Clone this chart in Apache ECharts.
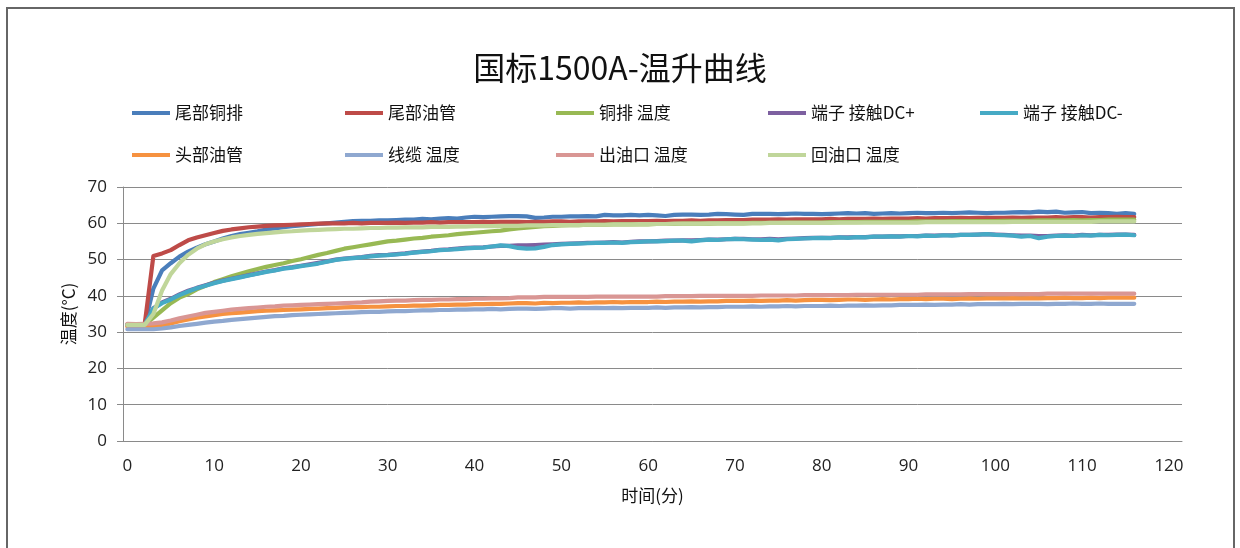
<!DOCTYPE html>
<html><head><meta charset="utf-8">
<script src="https://cdn.jsdelivr.net/npm/echarts@6/dist/echarts.min.js"></script>
<style>html,body{margin:0;padding:0;background:#fff}#c{width:1240px;height:548px}</style>
</head><body><div id="c"></div>
<script>
const titleText = '国标1500A-温升曲线';
const xName = '时间(分)';
const yName = '温度(°C)';
const categories = [0,1,2,3,4,5,6,7,8,9,10,11,12,13,14,15,16,17,18,19,20,21,22,23,24,25,26,27,28,29,30,31,32,33,34,35,36,37,38,39,40,41,42,43,44,45,46,47,48,49,50,51,52,53,54,55,56,57,58,59,60,61,62,63,64,65,66,67,68,69,70,71,72,73,74,75,76,77,78,79,80,81,82,83,84,85,86,87,88,89,90,91,92,93,94,95,96,97,98,99,100,101,102,103,104,105,106,107,108,109,110,111,112,113,114,115,116,117,118,119,120,121];
const yTicks = [0,10,20,30,40,50,60,70];
const seriesNames = ['尾部铜排','尾部油管','铜排 温度','端子 接触DC+','端子 接触DC-','头部油管','线缆 温度','出油口 温度','回油口 温度'];
const seriesColors = ['#4A7EBB','#BE4B48','#98B954','#7D60A0','#46AAC5','#F69240','#8FA8D0','#D99694','#C0D69A'];

const tailCopperBar = [32,32,32.1,42,47,49,50.8,52.2,53.3,54.2,
55,55.8,56.5,57,57.4,57.8,58.3,58.6,58.9,59.2,
59.4,59.6,59.8,60,60.2,60.4,60.6,60.7,60.7,60.8,
60.8,60.9,61,61,61.2,61.1,61.3,61.4,61.3,61.6,
61.8,61.7,61.8,61.9,62,62,61.9,61.5,61.6,61.8,
61.8,61.9,61.9,62,61.9,62.3,62.2,62.2,62.3,62.2,
62.3,62.2,62,62.3,62.4,62.4,62.3,62.4,62.6,62.5,
62.4,62.3,62.6,62.6,62.6,62.5,62.6,62.7,62.6,62.6,
62.5,62.6,62.7,62.8,62.7,62.8,62.6,62.7,62.8,62.7,
62.8,62.9,62.8,62.8,62.9,62.8,62.9,63,62.9,62.8,
62.9,62.9,63,63.1,63,63.2,63.1,63.2,62.9,63,
63.1,62.8,62.9,62.8,62.6,62.8,62.6];
const tailOilPipe = [32,32,32.2,51,51.7,52.6,54,55.3,56.1,56.7,
57.3,57.9,58.3,58.6,58.9,59.1,59.3,59.4,59.5,59.6,
59.7,59.8,59.9,60,60,60,60.1,60,60.1,60.1,
60.1,60.2,60.1,60.2,60.2,60.3,60.2,60.3,60.3,60.3,
60.3,60.4,60.3,60.4,60.4,60.4,60.3,60.4,60.4,60.5,
60.5,60.4,60.5,60.5,60.5,60.6,60.5,60.6,60.6,60.6,
60.6,60.7,60.6,60.7,60.7,60.8,60.7,60.8,60.8,60.9,
60.9,60.9,61,61,61,61.1,61,61.1,61.1,61.1,
61.1,61.2,61.1,61.2,61.2,61.2,61.3,61.2,61.3,61.3,
61.3,61.4,61.3,61.4,61.4,61.4,61.5,61.4,61.5,61.5,
61.5,61.5,61.6,61.5,61.6,61.6,61.6,61.7,61.6,61.7,
61.7,61.6,61.7,61.7,61.8,61.7,61.7];
const copperBarTemp = [32,32,32,34,36,38,39.5,40.5,41.8,42.8,
43.8,44.6,45.4,46.1,46.8,47.4,48,48.5,49,49.6,
50.1,50.7,51.3,51.8,52.4,53,53.4,53.8,54.2,54.6,
55,55.2,55.5,55.8,56,56.3,56.5,56.7,57,57.2,
57.4,57.6,57.8,58,58.3,58.6,58.8,59,59.2,59.3,
59.4,59.5,59.5,59.6,59.6,59.6,59.7,59.7,59.7,59.7,
59.7,59.8,59.8,59.8,59.9,59.9,59.9,59.9,60,60,
60,60,60.1,60.1,60.1,60.1,60.2,60.2,60.2,60.2,
60.2,60.3,60.3,60.3,60.3,60.4,60.4,60.4,60.4,60.4,
60.4,60.5,60.5,60.5,60.5,60.6,60.6,60.6,60.6,60.6,
60.6,60.7,60.7,60.7,60.7,60.8,60.8,60.8,60.8,60.9,
60.8,60.9,60.9,61,61,61,61];
const terminalDCPlus = [32,32,32,36.6,38.2,39.2,40.4,41.4,42.2,42.9,
43.6,44.2,44.7,45.2,45.7,46.2,46.7,47.1,47.6,47.9,
48.3,48.7,49.1,49.5,50,50.3,50.5,50.7,51,51.2,
51.3,51.5,51.7,52,52.2,52.4,52.7,52.8,53,53.2,
53.3,53.4,53.6,53.8,53.8,53.9,53.9,54,54.1,54.2,
54.3,54.4,54.5,54.6,54.6,54.7,54.8,54.7,54.9,55,
55,55.1,55.2,55.2,55.3,55.3,55.4,55.5,55.5,55.6,
55.7,55.7,55.6,55.6,55.7,55.6,55.7,55.8,55.9,56,
56,56,56.1,56.1,56.2,56.2,56.3,56.3,56.4,56.4,
56.5,56.5,56.6,56.6,56.7,56.7,56.8,56.8,56.9,57,
56.9,56.8,56.7,56.6,56.6,56.5,56.5,56.6,56.7,56.6,
56.8,56.7,56.8,56.8,56.9,56.9,56.8];
const terminalDCMinus = [32,32,32,36.5,38,39,40.2,41.2,42.1,42.8,
43.5,44.1,44.6,45.1,45.6,46.1,46.6,47,47.5,47.8,
48.2,48.5,48.9,49.4,49.9,50.2,50.4,50.6,50.9,51.1,
51.2,51.4,51.6,51.9,52.1,52.3,52.6,52.7,52.9,53.1,
53.2,53.3,53.6,53.9,53.7,53.2,53,53.1,53.5,54,
54.2,54.3,54.4,54.5,54.6,54.6,54.7,54.6,54.8,54.9,
55,55,55.1,55.2,55.2,55,55.3,55.5,55.4,55.6,
55.7,55.6,55.5,55.4,55.5,55.3,55.6,55.7,55.8,55.9,
56,55.9,56.1,56,56.2,56.1,56.3,56.3,56.4,56.3,
56.5,56.4,56.6,56.5,56.7,56.6,56.8,56.8,56.9,57,
56.8,56.7,56.6,56.3,56.5,55.9,56.3,56.5,56.6,56.5,
56.7,56.6,56.8,56.7,56.8,56.9,56.7];
const headOilPipe = [31.5,31.5,31.6,31.6,31.8,32.4,33,33.5,34,34.3,
34.7,35,35.2,35.4,35.6,35.8,35.9,36,36.1,36.2,
36.3,36.4,36.5,36.6,36.7,36.8,36.9,36.9,37,37,
37.1,37.2,37.2,37.3,37.3,37.4,37.5,37.5,37.6,37.6,
37.7,37.7,37.8,37.8,37.9,38,38,37.9,38.1,38,
38.1,38.1,38.2,38.1,38.2,38.2,38.3,38.2,38.3,38.3,
38.3,38.4,38.3,38.4,38.4,38.5,38.4,38.5,38.5,38.6,
38.6,38.6,38.7,38.6,38.7,38.7,38.8,38.7,38.8,38.9,
38.9,38.8,38.9,39,39,38.9,39,39.1,39,39.1,
39.1,39.2,39.1,39.2,39.2,39.1,39.2,39.3,39.2,39.3,
39.3,39.3,39.4,39.3,39.4,39.3,39.4,39.4,39.5,39.4,
39.4,39.5,39.4,39.5,39.5,39.5,39.5];
const cableTemp = [30.8,30.8,30.8,30.8,31,31.3,31.7,32,32.3,32.6,
32.9,33.1,33.4,33.6,33.8,34,34.2,34.4,34.5,34.7,
34.8,34.9,35,35.1,35.2,35.3,35.4,35.5,35.6,35.6,
35.7,35.8,35.8,35.9,36,36,36.1,36.1,36.2,36.2,
36.3,36.3,36.4,36.3,36.4,36.5,36.5,36.4,36.5,36.6,
36.6,36.5,36.6,36.6,36.7,36.6,36.7,36.6,36.7,36.7,
36.7,36.8,36.7,36.8,36.8,36.9,36.8,36.9,36.9,37,
37,37,37.1,37,37.1,37.1,37.2,37.1,37.2,37.2,
37.2,37.3,37.2,37.3,37.3,37.4,37.3,37.4,37.4,37.5,
37.5,37.5,37.6,37.5,37.6,37.6,37.7,37.6,37.7,37.7,
37.7,37.8,37.7,37.8,37.8,37.8,37.7,37.8,37.8,37.9,
37.8,37.8,37.9,37.8,37.8,37.8,37.8];
const oilOutletTemp = [32.3,32.2,32.3,32.4,32.7,33.2,33.8,34.3,34.8,35.3,
35.6,35.9,36.2,36.4,36.6,36.8,37,37.1,37.3,37.4,
37.5,37.6,37.7,37.8,37.9,38,38.1,38.2,38.4,38.5,
38.6,38.7,38.7,38.8,38.9,38.9,39,39,39.1,39.1,
39.2,39.2,39.3,39.3,39.4,39.6,39.6,39.6,39.7,39.7,
39.7,39.7,39.7,39.7,39.8,39.8,39.8,39.8,39.8,39.8,
39.8,39.8,39.9,39.9,39.9,39.9,40,40,40,40,
40,40,40,40.1,40.1,40.1,40.1,40.1,40.2,40.2,
40.2,40.2,40.2,40.2,40.3,40.3,40.3,40.3,40.3,40.3,
40.3,40.3,40.4,40.4,40.4,40.4,40.4,40.5,40.5,40.5,
40.5,40.5,40.5,40.5,40.5,40.5,40.6,40.6,40.6,40.6,
40.6,40.6,40.6,40.6,40.6,40.6,40.6];
const oilReturnTemp = [32,32,32,35,41.5,46,49,51.3,53,54.2,
55,55.6,56.1,56.5,56.8,57.1,57.3,57.5,57.7,57.8,
58,58.1,58.2,58.3,58.4,58.5,58.5,58.6,58.7,58.7,
58.8,58.8,58.9,58.9,58.9,59,59,59,59.1,59.1,
59.2,59.2,59.2,59.3,59.3,59.3,59.4,59.4,59.4,59.5,
59.5,59.5,59.5,59.6,59.6,59.6,59.7,59.7,59.7,59.8,
59.8,59.8,59.8,59.9,59.9,59.9,59.9,60,60,60,
60,60,60,60,60.1,60.1,60.1,60.1,60.1,60.1,
60.1,60.1,60.2,60.2,60.2,60.2,60.2,60.2,60.2,60.2,
60.2,60.2,60.3,60.3,60.3,60.3,60.3,60.3,60.3,60.3,
60.3,60.3,60.4,60.4,60.4,60.4,60.4,60.4,60.4,60.4,
60.4,60.4,60.5,60.5,60.5,60.5,60.5];

const seriesData = [tailCopperBar, tailOilPipe, copperBarTemp, terminalDCPlus, terminalDCMinus, headOilPipe, cableTemp, oilOutletTemp, oilReturnTemp];

// legend layout (positions only)
const legendLeft = [132, 345, 556, 768, 980, 132, 345, 556, 768];
const legendTop = [103, 103, 103, 103, 103, 145, 145, 145, 145];

const chart = echarts.init(document.getElementById('c'), null, {renderer:'canvas'});
const cjk = '"Noto Sans CJK SC", sans-serif';
const latin = '"Open Sans", "Noto Sans CJK SC", sans-serif';
const gridColor = '#8a8a8a';

const legends = seriesNames.map((n, i) => ({
  data: [n], left: legendLeft[i], top: legendTop[i], orient: 'horizontal',
  icon: 'rect', itemWidth: 38, itemHeight: 4, itemGap: 0, padding: 0,
  textStyle: {fontFamily: cjk, fontSize: 17, color: '#111', lineHeight: 20, padding: [0,0,0,0]}
}));

chart.setOption({
  animation: false,
  backgroundColor: '#fff',
  title: {text: titleText, left: 'center', top: 47,
    textStyle: {fontFamily: cjk, fontSize: 32, fontWeight: 'normal', color: '#111'}},
  legend: legends,
  graphic: [{type: 'rect', shape: {x: 7, y: 8, width: 1227, height: 580},
    style: {fill: 'none', stroke: '#666', lineWidth: 2}, silent: true}],
  grid: {left: 123, right: 58, top: 187, bottom: 107, containLabel: false},
  xAxis: {
    type: 'category', data: categories, boundaryGap: true,
    name: xName, nameLocation: 'middle', nameGap: 46,
    nameTextStyle: {fontFamily: cjk, fontSize: 17, color: '#111'},
    axisLine: {show: true, lineStyle: {color: gridColor, width: 1}},
    axisTick: {show: false},
    axisLabel: {interval: 9, margin: 17, fontFamily: latin, fontSize: 17, color: '#222'},
    splitLine: {show: false}
  },
  yAxis: {
    type: 'value', min: yTicks[0], max: yTicks[yTicks.length-1], interval: 10,
    name: yName, nameLocation: 'middle', nameGap: 46, nameRotate: 90,
    nameTextStyle: {fontFamily: cjk, fontSize: 17, color: '#111'},
    axisLine: {show: true, lineStyle: {color: gridColor, width: 1}},
    axisTick: {show: true, inside: false, length: 6, lineStyle: {color: gridColor}},
    axisLabel: {margin: 16, fontFamily: latin, fontSize: 17, color: '#222'},
    splitLine: {show: true, lineStyle: {color: gridColor, width: 1}}
  },
  series: seriesNames.map((n, i) => ({
    name: n, type: 'line', data: seriesData[i], showSymbol: false, symbol: 'none',
    smooth: false, color: seriesColors[i],
    lineStyle: {width: 4.2, color: seriesColors[i], cap: 'round', join: 'round'}
  }))
});
</script>
</body></html>
